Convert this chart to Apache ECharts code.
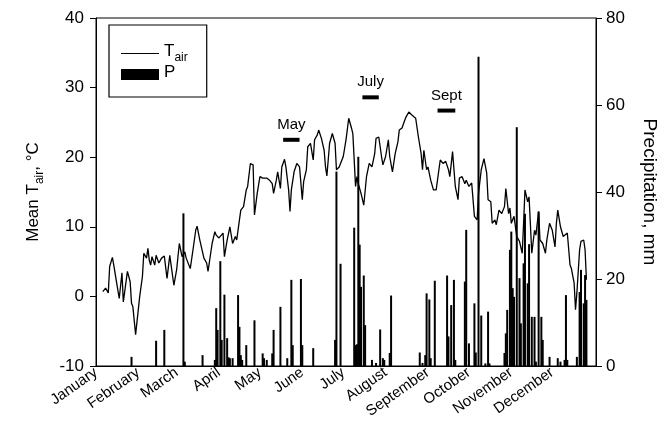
<!DOCTYPE html>
<html><head><meta charset="utf-8">
<script src="https://cdn.jsdelivr.net/npm/echarts@6/dist/echarts.min.js"></script>
<style>html,body{margin:0;padding:0;background:#fff}#c{width:670px;height:423px}</style>
</head><body><div id="c"></div>
<script>
const months = ['January','February','March','April','May','June','July','August','September','October','November','December'];
const monthStartDays = [0,31,59,90,120,151,181,212,243,273,304,334];

const tempDays = [5,7,9,10,12,13,15,17,19,20,21,23,25,26,27,29,32,34,35,37,38,39,40,41,43,44,45,46,48,50,52,54,57,59,61,63,65,66,69,71,73,74,76,79,81,82,85,87,88,90,93,94,96,98,99,100,102,103,105,106,108,110,111,113,115,116,118,120,122,125,127,129,130,132,133,135,136,138,139,141,142,143,145,147,149,151,152,154,155,157,159,160,162,163,165,167,168,169,171,173,175,176,178,181,183,185,187,188,190,191,192,194,196,198,200,202,204,205,207,209,210,212,214,215,217,219,221,222,224,226,227,229,231,232,234,235,236,238,239,240,242,243,245,247,249,251,252,254,256,258,259,261,263,265,266,268,270,271,273,275,277,279,280,282,284,286,287,289,290,292,293,295,297,299,300,302,303,304,306,308,310,312,313,314,316,317,319,321,322,324,325,327,329,330,332,334,336,337,338,340,342,345,347,348,350,351,352,354,355,357,358,359];
const tempValues = [0.7,1.2,0.5,4.3,5.6,4.5,2.1,-0.3,3.4,-0.8,-0.8,3.6,2.1,-1.0,-1.5,-5.5,0.0,2.9,6.2,5.5,6.9,5.2,4.5,5.7,4.5,5.9,5.7,4.8,5.5,5.8,2.6,5.9,1.6,3.8,7.6,5.7,6.4,5.5,4.0,6.7,9.5,10.1,8.1,5.5,4.8,3.6,7.6,9.3,8.8,8.4,9.1,5.7,8.1,10.0,9.8,7.6,8.6,8.1,11.0,12.4,12.9,15.3,15.8,19.1,18.9,11.7,14.8,17.2,17.0,17.0,16.7,16.2,14.8,16.7,17.9,15.5,18.6,19.7,18.6,15.3,12.2,15.3,17.9,19.1,18.6,13.9,16.5,18.2,21.5,22.0,19.6,22.5,23.2,23.9,22.7,21.0,18.6,17.3,22.0,23.4,22.0,18.2,18.6,20.1,22.5,25.6,24.2,23.4,15.8,17.2,16.2,14.8,13.1,17.2,19.1,18.6,20.5,22.7,22.9,20.1,18.9,20.1,22.5,20.1,17.9,20.5,22.2,23.9,24.2,25.3,25.8,26.5,26.1,26.3,25.6,25.8,22.9,20.5,18.2,21.0,18.2,18.6,16.7,15.3,15.3,18.2,19.6,19.1,19.4,18.2,17.2,20.8,15.8,13.9,17.0,17.2,16.2,16.7,15.8,16.3,11.5,11.0,14.8,18.2,19.8,17.7,13.9,13.6,10.5,11.0,10.3,12.4,11.9,12.9,15.5,11.9,12.7,10.5,11.5,8.6,7.9,6.2,10.5,15.3,13.6,14.3,6.2,9.5,8.8,12.2,8.1,7.6,6.2,8.1,10.5,9.5,7.1,10.5,12.4,10.0,8.6,9.1,4.5,4.0,1.9,-1.9,0.5,6.7,7.9,8.1,6.7,2.4];

const precipDays = [26,44,50,64,65,78,87,88,89,91,92,94,96,97,98,100,104,105,106,107,110,116,122,123,125,129,130,135,140,143,144,150,151,159,175,176,179,189,190,191,192,193,194,196,197,202,205,208,210,211,215,216,237,239,241,242,244,245,248,257,258,260,262,263,270,271,273,277,278,280,282,285,287,288,299,300,301,303,304,305,306,308,310,311,313,314,316,317,319,321,322,324,326,327,332,338,340,343,344,345,352,354,355,357,358,359];
const precipValues = [2.1,5.8,8.3,35.1,1.0,2.5,1.4,13.3,8.3,24.1,6.0,16.4,6.4,2.0,1.8,1.8,16.3,9.0,2.5,1.4,4.8,10.5,2.9,1.8,1.4,2.9,8.3,13.6,1.8,19.8,4.8,20.0,4.8,4.1,6.0,44.7,23.5,31.8,4.8,5.0,48.1,27.9,18.2,20.8,9.4,1.4,0.7,8.4,1.8,1.4,3.0,16.2,3.1,0.7,2.5,16.7,15.3,1.8,19.6,20.8,6.8,14.0,19.8,1.4,19.4,31.3,5.2,14.4,3.1,71.1,11.6,0.6,12.5,0.6,3.0,7.5,12.9,26.7,30.9,17.9,15.9,54.9,20.2,9.8,23.6,35.0,19.0,28.0,11.3,11.3,1.0,35.5,11.3,6.0,2.1,1.8,1.0,1.4,16.3,1.4,2.1,17.0,22.1,14.4,20.9,15.2];

const periodNames = ['May','July','Sept'];
const periodStartDays = [137,195,250];
const periodEndDays = [149,207,263];
const periodLevels = [22.5,28.6,26.7];

const FONT = '"Liberation Sans", Arial, Helvetica, sans-serif';
const chart = echarts.init(document.getElementById('c'), null, {renderer:'canvas'});

const tempData = tempDays.map((d,i)=>[d,tempValues[i]]);
const precipData = precipDays.map((d,i)=>[d,precipValues[i]]);

const periodLines = periodNames.map((n,i)=>({
  type:'line', name:'period'+i, xAxisIndex:0, yAxisIndex:0,
  data:[[periodStartDays[i],periodLevels[i]],[periodEndDays[i],periodLevels[i]]],
  symbol:'none', lineStyle:{color:'#000', width:4, cap:'butt'}, silent:true, z:5, animation:false
}));
const periodLabels = {
  type:'scatter', name:'periodLabels', xAxisIndex:0, yAxisIndex:0,
  data: periodNames.map((n,i)=>({name:n, value:[(periodStartDays[i]+periodEndDays[i])/2, periodLevels[i]]})),
  symbol:'circle', symbolSize:1, itemStyle:{color:'rgba(255,255,255,0)', opacity:1}, silent:true, animation:false, z:6,
  label:{show:true, position:'top', distance:7, formatter:'{b}', color:'#000', opacity:1, fontSize:15, fontFamily:FONT}
};

const axisLineStyle = {show:true, onZero:false, lineStyle:{color:'#000', width:1}};

chart.setOption({
  animation:false,
  backgroundColor:'#fff',
  textStyle:{fontFamily:FONT, color:'#000'},
  grid:{left:96, right:74, top:18, bottom:57, show:true, borderColor:'#000', borderWidth:1, backgroundColor:'transparent'},
  legend:{
    left:109, top:25, orient:'vertical',
    data:[{name:'Tair', icon:'path://M0,5 L38,5 L38,6 L0,6 Z'},{name:'P', icon:'rect'}],
    borderColor:'#000', borderWidth:1.2, padding:[18,19,16,12], itemGap:0,
    itemWidth:38, itemHeight:11, selectedMode:false,
    formatter: n => n==='Tair' ? '{a|T}{s|air}' : '{a|P}',
    textStyle:{color:'#000', fontFamily:FONT,
      rich:{ a:{fontSize:17, verticalAlign:'bottom', padding:[0,0,4,0], fontFamily:FONT},
             s:{fontSize:12, verticalAlign:'bottom', fontFamily:FONT} } }
  },
  xAxis:{
    type:'value', min:0, max:366,
    axisLine:axisLineStyle, axisTick:{show:false}, splitLine:{show:false},
    axisLabel:{
      customValues: monthStartDays,
      formatter: v => { const k = monthStartDays.indexOf(v); return k>=0 ? months[k] : ''; },
      rotate:35, fontSize:15, margin:5, color:'#000', fontFamily:FONT
    }
  },
  yAxis:[
    { type:'value', min:-10, max:40, interval:10, position:'left',
      axisLine:axisLineStyle, axisTick:{show:true, inside:false, length:6, lineStyle:{color:'#000'}},
      splitLine:{show:false},
      axisLabel:{fontSize:17, margin:12, color:'#000', fontFamily:FONT},
      name:'{a|Mean T}{s|air}{a|, °C}', nameLocation:'middle', nameRotate:90, nameGap:50,
      nameTextStyle:{color:'#000', fontFamily:FONT,
        rich:{ a:{fontSize:17, verticalAlign:'bottom', padding:[0,0,4,0], fontFamily:FONT},
               s:{fontSize:12, verticalAlign:'bottom', fontFamily:FONT} } }
    },
    { type:'value', min:0, max:80, interval:20, position:'right',
      axisLine:axisLineStyle, axisTick:{show:true, inside:false, length:6, lineStyle:{color:'#000'}},
      splitLine:{show:false},
      axisLabel:{fontSize:17, margin:10, color:'#000', fontFamily:FONT},
      name:'Precipitation, mm', nameLocation:'middle', nameRotate:-90, nameGap:44,
      nameTextStyle:{color:'#000', fontSize:19, fontFamily:FONT}
    }
  ],
  series:[
    { type:'line', name:'Tair', xAxisIndex:0, yAxisIndex:0, data:tempData,
      symbol:'none', showSymbol:false, lineStyle:{color:'#000', width:1.3}, itemStyle:{color:'#000'}, z:3 },
    { type:'bar', name:'P', xAxisIndex:0, yAxisIndex:1, data:precipData,
      barWidth:2, itemStyle:{color:'#000'}, z:2 },
    ...periodLines,
    periodLabels
  ]
});
</script></body></html>
